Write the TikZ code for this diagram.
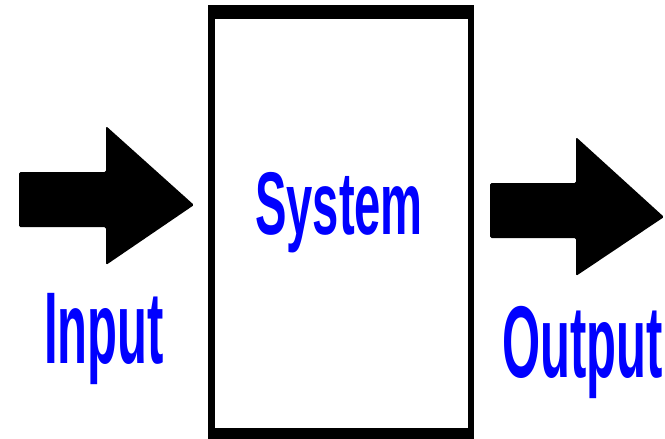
\documentclass[tikz,border=0pt]{standalone}
\usepackage{fontspec}
\setmainfont{Liberation Sans}
\definecolor{txtblue}{RGB}{0,0,255}
\begin{document}
\begin{tikzpicture}[x=1pt,y=-1pt,
  blockarrow/.style={fill=black,rounded corners=1.5pt},
  lblbase/.style={text=txtblue,inner sep=0pt,anchor=base west},
  biglbl/.style={lblbase,font=\bfseries\fontsize{102}{102}\selectfont,xscale=0.48},
  syslbl/.style={lblbase,font=\bfseries\fontsize{89}{89}\selectfont,xscale=0.53}]
\useasboundingbox (0,0) rectangle (665,439);
\fill[white] (0,0) rectangle (665,439);
% system box
\fill[black] (208,5) rectangle (474,439);
\fill[white] (215,19) rectangle (468,428);
% arrows
\fill[blockarrow] (19,172) -- (106,172) -- (106,126) -- (194,205) -- (106,265) -- (106,227) -- (19,227) -- cycle;
\fill[blockarrow] (490,183) -- (576,183) -- (576,137) -- (664,217) -- (576,276) -- (576,238) -- (490,238) -- cycle;
% labels
\node[biglbl] (input) at (44,363) {Input};
\node[syslbl] (system) at (255,234) {System};
\node[biglbl] (output) at (502,377) {Output};
\end{tikzpicture}
\end{document}
